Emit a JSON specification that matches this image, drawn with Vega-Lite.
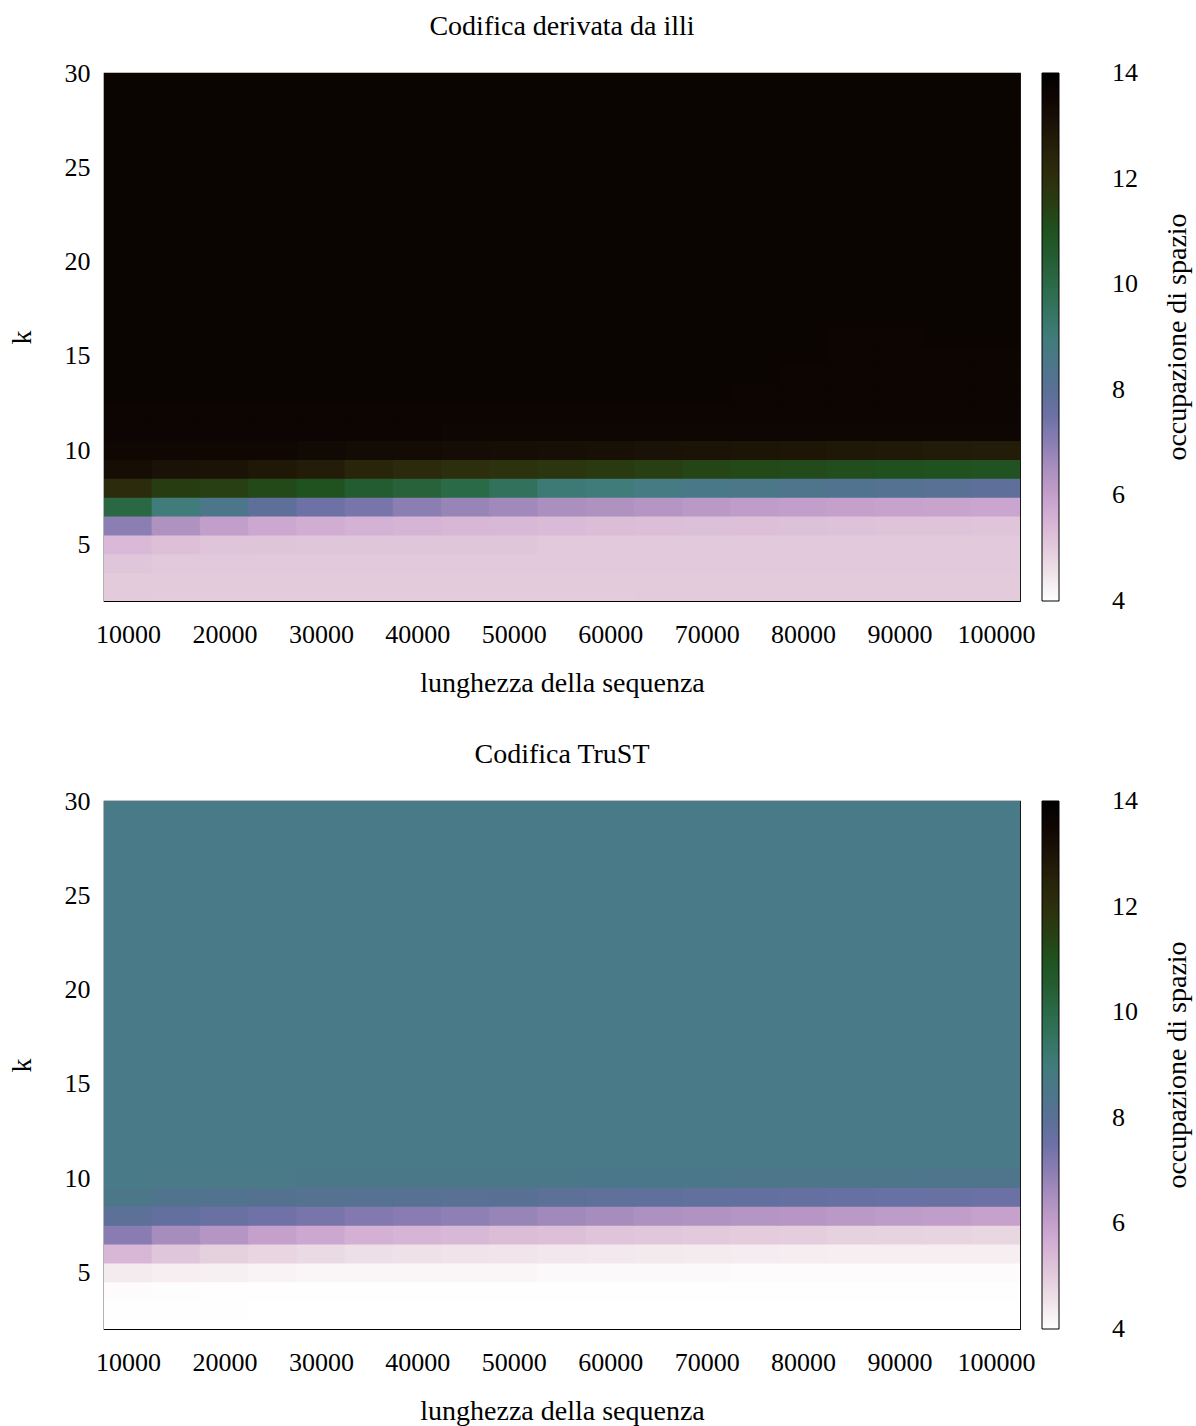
{
"$schema": "https://vega.github.io/schema/vega-lite/v6.json",
"background": "white",
"padding": {"left": 7, "top": 12, "right": 5, "bottom": 5},
"spacing": 42,
"datasets": {
"illi": [
{"n":10000,"k":2,"v":5.0},{"n":15000,"k":2,"v":4.97},{"n":20000,"k":2,"v":4.97},{"n":25000,"k":2,"v":4.97},{"n":30000,"k":2,"v":4.97},{"n":35000,"k":2,"v":4.97},{"n":40000,"k":2,"v":4.97},{"n":45000,"k":2,"v":4.97},{"n":50000,"k":2,"v":4.97},{"n":55000,"k":2,"v":4.97},{"n":60000,"k":2,"v":4.97},{"n":65000,"k":2,"v":5.0},{"n":70000,"k":2,"v":5.0},{"n":75000,"k":2,"v":5.0},{"n":80000,"k":2,"v":5.0},{"n":85000,"k":2,"v":5.0},{"n":90000,"k":2,"v":5.0},{"n":95000,"k":2,"v":5.0},{"n":100000,"k":2,"v":5.0},
{"n":10000,"k":3,"v":5.0},{"n":15000,"k":3,"v":5.0},{"n":20000,"k":3,"v":5.0},{"n":25000,"k":3,"v":5.0},{"n":30000,"k":3,"v":5.0},{"n":35000,"k":3,"v":5.0},{"n":40000,"k":3,"v":5.0},{"n":45000,"k":3,"v":5.0},{"n":50000,"k":3,"v":5.0},{"n":55000,"k":3,"v":5.0},{"n":60000,"k":3,"v":5.0},{"n":65000,"k":3,"v":5.0},{"n":70000,"k":3,"v":5.0},{"n":75000,"k":3,"v":5.0},{"n":80000,"k":3,"v":5.0},{"n":85000,"k":3,"v":5.0},{"n":90000,"k":3,"v":5.0},{"n":95000,"k":3,"v":5.0},{"n":100000,"k":3,"v":5.0},
{"n":10000,"k":4,"v":5.1},{"n":15000,"k":4,"v":5.05},{"n":20000,"k":4,"v":5.05},{"n":25000,"k":4,"v":5.05},{"n":30000,"k":4,"v":5.02},{"n":35000,"k":4,"v":5.02},{"n":40000,"k":4,"v":5.02},{"n":45000,"k":4,"v":5.02},{"n":50000,"k":4,"v":5.02},{"n":55000,"k":4,"v":5.02},{"n":60000,"k":4,"v":5.02},{"n":65000,"k":4,"v":5.02},{"n":70000,"k":4,"v":5.02},{"n":75000,"k":4,"v":5.02},{"n":80000,"k":4,"v":5.02},{"n":85000,"k":4,"v":5.02},{"n":90000,"k":4,"v":5.02},{"n":95000,"k":4,"v":5.02},{"n":100000,"k":4,"v":5.02},
{"n":10000,"k":5,"v":5.38},{"n":15000,"k":5,"v":5.22},{"n":20000,"k":5,"v":5.15},{"n":25000,"k":5,"v":5.13},{"n":30000,"k":5,"v":5.1},{"n":35000,"k":5,"v":5.1},{"n":40000,"k":5,"v":5.1},{"n":45000,"k":5,"v":5.1},{"n":50000,"k":5,"v":5.1},{"n":55000,"k":5,"v":5.05},{"n":60000,"k":5,"v":5.05},{"n":65000,"k":5,"v":5.05},{"n":70000,"k":5,"v":5.05},{"n":75000,"k":5,"v":5.05},{"n":80000,"k":5,"v":5.05},{"n":85000,"k":5,"v":5.03},{"n":90000,"k":5,"v":5.03},{"n":95000,"k":5,"v":5.03},{"n":100000,"k":5,"v":5.03},
{"n":10000,"k":6,"v":7.0},{"n":15000,"k":6,"v":6.4},{"n":20000,"k":6,"v":6.05},{"n":25000,"k":6,"v":5.8},{"n":30000,"k":6,"v":5.65},{"n":35000,"k":6,"v":5.55},{"n":40000,"k":6,"v":5.5},{"n":45000,"k":6,"v":5.45},{"n":50000,"k":6,"v":5.4},{"n":55000,"k":6,"v":5.35},{"n":60000,"k":6,"v":5.3},{"n":65000,"k":6,"v":5.27},{"n":70000,"k":6,"v":5.25},{"n":75000,"k":6,"v":5.23},{"n":80000,"k":6,"v":5.2},{"n":85000,"k":6,"v":5.18},{"n":90000,"k":6,"v":5.17},{"n":95000,"k":6,"v":5.16},{"n":100000,"k":6,"v":5.15},
{"n":10000,"k":7,"v":10.1},{"n":15000,"k":7,"v":9.0},{"n":20000,"k":7,"v":8.45},{"n":25000,"k":7,"v":7.9},{"n":30000,"k":7,"v":7.5},{"n":35000,"k":7,"v":7.3},{"n":40000,"k":7,"v":7.0},{"n":45000,"k":7,"v":6.8},{"n":50000,"k":7,"v":6.65},{"n":55000,"k":7,"v":6.5},{"n":60000,"k":7,"v":6.4},{"n":65000,"k":7,"v":6.3},{"n":70000,"k":7,"v":6.2},{"n":75000,"k":7,"v":6.1},{"n":80000,"k":7,"v":6.05},{"n":85000,"k":7,"v":6.0},{"n":90000,"k":7,"v":5.95},{"n":95000,"k":7,"v":5.9},{"n":100000,"k":7,"v":5.85},
{"n":10000,"k":8,"v":12.1},{"n":15000,"k":8,"v":11.6},{"n":20000,"k":8,"v":11.5},{"n":25000,"k":8,"v":11.25},{"n":30000,"k":8,"v":11.0},{"n":35000,"k":8,"v":10.55},{"n":40000,"k":8,"v":10.3},{"n":45000,"k":8,"v":10.0},{"n":50000,"k":8,"v":9.6},{"n":55000,"k":8,"v":9.1},{"n":60000,"k":8,"v":9.0},{"n":65000,"k":8,"v":8.8},{"n":70000,"k":8,"v":8.65},{"n":75000,"k":8,"v":8.5},{"n":80000,"k":8,"v":8.35},{"n":85000,"k":8,"v":8.25},{"n":90000,"k":8,"v":8.15},{"n":95000,"k":8,"v":8.05},{"n":100000,"k":8,"v":7.9},
{"n":10000,"k":9,"v":13.2},{"n":15000,"k":9,"v":13.05},{"n":20000,"k":9,"v":13.0},{"n":25000,"k":9,"v":12.85},{"n":30000,"k":9,"v":12.7},{"n":35000,"k":9,"v":12.4},{"n":40000,"k":9,"v":12.2},{"n":45000,"k":9,"v":12.05},{"n":50000,"k":9,"v":11.9},{"n":55000,"k":9,"v":11.8},{"n":60000,"k":9,"v":11.7},{"n":65000,"k":9,"v":11.5},{"n":70000,"k":9,"v":11.35},{"n":75000,"k":9,"v":11.25},{"n":80000,"k":9,"v":11.2},{"n":85000,"k":9,"v":11.1},{"n":90000,"k":9,"v":11.05},{"n":95000,"k":9,"v":11.0},{"n":100000,"k":9,"v":10.95},
{"n":10000,"k":10,"v":13.45},{"n":15000,"k":10,"v":13.45},{"n":20000,"k":10,"v":13.45},{"n":25000,"k":10,"v":13.45},{"n":30000,"k":10,"v":13.4},{"n":35000,"k":10,"v":13.3},{"n":40000,"k":10,"v":13.28},{"n":45000,"k":10,"v":13.25},{"n":50000,"k":10,"v":13.22},{"n":55000,"k":10,"v":13.15},{"n":60000,"k":10,"v":13.1},{"n":65000,"k":10,"v":13.05},{"n":70000,"k":10,"v":13.0},{"n":75000,"k":10,"v":12.95},{"n":80000,"k":10,"v":12.9},{"n":85000,"k":10,"v":12.85},{"n":90000,"k":10,"v":12.8},{"n":95000,"k":10,"v":12.75},{"n":100000,"k":10,"v":12.7},
{"n":10000,"k":11,"v":13.56},{"n":15000,"k":11,"v":13.56},{"n":20000,"k":11,"v":13.56},{"n":25000,"k":11,"v":13.56},{"n":30000,"k":11,"v":13.55},{"n":35000,"k":11,"v":13.55},{"n":40000,"k":11,"v":13.55},{"n":45000,"k":11,"v":13.54},{"n":50000,"k":11,"v":13.54},{"n":55000,"k":11,"v":13.54},{"n":60000,"k":11,"v":13.53},{"n":65000,"k":11,"v":13.53},{"n":70000,"k":11,"v":13.53},{"n":75000,"k":11,"v":13.52},{"n":80000,"k":11,"v":13.52},{"n":85000,"k":11,"v":13.52},{"n":90000,"k":11,"v":13.52},{"n":95000,"k":11,"v":13.52},{"n":100000,"k":11,"v":13.52},
{"n":10000,"k":12,"v":13.6},{"n":15000,"k":12,"v":13.6},{"n":20000,"k":12,"v":13.6},{"n":25000,"k":12,"v":13.6},{"n":30000,"k":12,"v":13.6},{"n":35000,"k":12,"v":13.6},{"n":40000,"k":12,"v":13.6},{"n":45000,"k":12,"v":13.6},{"n":50000,"k":12,"v":13.6},{"n":55000,"k":12,"v":13.6},{"n":60000,"k":12,"v":13.59},{"n":65000,"k":12,"v":13.59},{"n":70000,"k":12,"v":13.59},{"n":75000,"k":12,"v":13.59},{"n":80000,"k":12,"v":13.59},{"n":85000,"k":12,"v":13.58},{"n":90000,"k":12,"v":13.58},{"n":95000,"k":12,"v":13.58},{"n":100000,"k":12,"v":13.58},
{"n":10000,"k":13,"v":13.62},{"n":15000,"k":13,"v":13.62},{"n":20000,"k":13,"v":13.62},{"n":25000,"k":13,"v":13.62},{"n":30000,"k":13,"v":13.62},{"n":35000,"k":13,"v":13.62},{"n":40000,"k":13,"v":13.62},{"n":45000,"k":13,"v":13.62},{"n":50000,"k":13,"v":13.62},{"n":55000,"k":13,"v":13.62},{"n":60000,"k":13,"v":13.62},{"n":65000,"k":13,"v":13.62},{"n":70000,"k":13,"v":13.62},{"n":75000,"k":13,"v":13.6},{"n":80000,"k":13,"v":13.6},{"n":85000,"k":13,"v":13.6},{"n":90000,"k":13,"v":13.6},{"n":95000,"k":13,"v":13.6},{"n":100000,"k":13,"v":13.6},
{"n":10000,"k":14,"v":13.62},{"n":15000,"k":14,"v":13.62},{"n":20000,"k":14,"v":13.62},{"n":25000,"k":14,"v":13.62},{"n":30000,"k":14,"v":13.62},{"n":35000,"k":14,"v":13.62},{"n":40000,"k":14,"v":13.62},{"n":45000,"k":14,"v":13.62},{"n":50000,"k":14,"v":13.62},{"n":55000,"k":14,"v":13.62},{"n":60000,"k":14,"v":13.62},{"n":65000,"k":14,"v":13.62},{"n":70000,"k":14,"v":13.62},{"n":75000,"k":14,"v":13.62},{"n":80000,"k":14,"v":13.6},{"n":85000,"k":14,"v":13.61},{"n":90000,"k":14,"v":13.61},{"n":95000,"k":14,"v":13.61},{"n":100000,"k":14,"v":13.61},
{"n":10000,"k":15,"v":13.62},{"n":15000,"k":15,"v":13.62},{"n":20000,"k":15,"v":13.62},{"n":25000,"k":15,"v":13.62},{"n":30000,"k":15,"v":13.62},{"n":35000,"k":15,"v":13.62},{"n":40000,"k":15,"v":13.62},{"n":45000,"k":15,"v":13.62},{"n":50000,"k":15,"v":13.62},{"n":55000,"k":15,"v":13.62},{"n":60000,"k":15,"v":13.62},{"n":65000,"k":15,"v":13.62},{"n":70000,"k":15,"v":13.62},{"n":75000,"k":15,"v":13.62},{"n":80000,"k":15,"v":13.62},{"n":85000,"k":15,"v":13.6},{"n":90000,"k":15,"v":13.6},{"n":95000,"k":15,"v":13.61},{"n":100000,"k":15,"v":13.61},
{"n":10000,"k":16,"v":13.62},{"n":15000,"k":16,"v":13.62},{"n":20000,"k":16,"v":13.62},{"n":25000,"k":16,"v":13.62},{"n":30000,"k":16,"v":13.62},{"n":35000,"k":16,"v":13.62},{"n":40000,"k":16,"v":13.62},{"n":45000,"k":16,"v":13.62},{"n":50000,"k":16,"v":13.62},{"n":55000,"k":16,"v":13.62},{"n":60000,"k":16,"v":13.62},{"n":65000,"k":16,"v":13.62},{"n":70000,"k":16,"v":13.62},{"n":75000,"k":16,"v":13.62},{"n":80000,"k":16,"v":13.62},{"n":85000,"k":16,"v":13.61},{"n":90000,"k":16,"v":13.61},{"n":95000,"k":16,"v":13.62},{"n":100000,"k":16,"v":13.62},
{"n":10000,"k":17,"v":13.62},{"n":15000,"k":17,"v":13.62},{"n":20000,"k":17,"v":13.62},{"n":25000,"k":17,"v":13.62},{"n":30000,"k":17,"v":13.62},{"n":35000,"k":17,"v":13.62},{"n":40000,"k":17,"v":13.62},{"n":45000,"k":17,"v":13.62},{"n":50000,"k":17,"v":13.62},{"n":55000,"k":17,"v":13.62},{"n":60000,"k":17,"v":13.62},{"n":65000,"k":17,"v":13.62},{"n":70000,"k":17,"v":13.62},{"n":75000,"k":17,"v":13.62},{"n":80000,"k":17,"v":13.62},{"n":85000,"k":17,"v":13.62},{"n":90000,"k":17,"v":13.62},{"n":95000,"k":17,"v":13.62},{"n":100000,"k":17,"v":13.62},
{"n":10000,"k":18,"v":13.62},{"n":15000,"k":18,"v":13.62},{"n":20000,"k":18,"v":13.62},{"n":25000,"k":18,"v":13.62},{"n":30000,"k":18,"v":13.62},{"n":35000,"k":18,"v":13.62},{"n":40000,"k":18,"v":13.62},{"n":45000,"k":18,"v":13.62},{"n":50000,"k":18,"v":13.62},{"n":55000,"k":18,"v":13.62},{"n":60000,"k":18,"v":13.62},{"n":65000,"k":18,"v":13.62},{"n":70000,"k":18,"v":13.62},{"n":75000,"k":18,"v":13.62},{"n":80000,"k":18,"v":13.62},{"n":85000,"k":18,"v":13.62},{"n":90000,"k":18,"v":13.62},{"n":95000,"k":18,"v":13.62},{"n":100000,"k":18,"v":13.62},
{"n":10000,"k":19,"v":13.62},{"n":15000,"k":19,"v":13.62},{"n":20000,"k":19,"v":13.62},{"n":25000,"k":19,"v":13.62},{"n":30000,"k":19,"v":13.62},{"n":35000,"k":19,"v":13.62},{"n":40000,"k":19,"v":13.62},{"n":45000,"k":19,"v":13.62},{"n":50000,"k":19,"v":13.62},{"n":55000,"k":19,"v":13.62},{"n":60000,"k":19,"v":13.62},{"n":65000,"k":19,"v":13.62},{"n":70000,"k":19,"v":13.62},{"n":75000,"k":19,"v":13.62},{"n":80000,"k":19,"v":13.62},{"n":85000,"k":19,"v":13.62},{"n":90000,"k":19,"v":13.62},{"n":95000,"k":19,"v":13.62},{"n":100000,"k":19,"v":13.62},
{"n":10000,"k":20,"v":13.62},{"n":15000,"k":20,"v":13.62},{"n":20000,"k":20,"v":13.62},{"n":25000,"k":20,"v":13.62},{"n":30000,"k":20,"v":13.62},{"n":35000,"k":20,"v":13.62},{"n":40000,"k":20,"v":13.62},{"n":45000,"k":20,"v":13.62},{"n":50000,"k":20,"v":13.62},{"n":55000,"k":20,"v":13.62},{"n":60000,"k":20,"v":13.62},{"n":65000,"k":20,"v":13.62},{"n":70000,"k":20,"v":13.62},{"n":75000,"k":20,"v":13.62},{"n":80000,"k":20,"v":13.62},{"n":85000,"k":20,"v":13.62},{"n":90000,"k":20,"v":13.62},{"n":95000,"k":20,"v":13.62},{"n":100000,"k":20,"v":13.62},
{"n":10000,"k":21,"v":13.62},{"n":15000,"k":21,"v":13.62},{"n":20000,"k":21,"v":13.62},{"n":25000,"k":21,"v":13.62},{"n":30000,"k":21,"v":13.62},{"n":35000,"k":21,"v":13.62},{"n":40000,"k":21,"v":13.62},{"n":45000,"k":21,"v":13.62},{"n":50000,"k":21,"v":13.62},{"n":55000,"k":21,"v":13.62},{"n":60000,"k":21,"v":13.62},{"n":65000,"k":21,"v":13.62},{"n":70000,"k":21,"v":13.62},{"n":75000,"k":21,"v":13.62},{"n":80000,"k":21,"v":13.62},{"n":85000,"k":21,"v":13.62},{"n":90000,"k":21,"v":13.62},{"n":95000,"k":21,"v":13.62},{"n":100000,"k":21,"v":13.62},
{"n":10000,"k":22,"v":13.62},{"n":15000,"k":22,"v":13.62},{"n":20000,"k":22,"v":13.62},{"n":25000,"k":22,"v":13.62},{"n":30000,"k":22,"v":13.62},{"n":35000,"k":22,"v":13.62},{"n":40000,"k":22,"v":13.62},{"n":45000,"k":22,"v":13.62},{"n":50000,"k":22,"v":13.62},{"n":55000,"k":22,"v":13.62},{"n":60000,"k":22,"v":13.62},{"n":65000,"k":22,"v":13.62},{"n":70000,"k":22,"v":13.62},{"n":75000,"k":22,"v":13.62},{"n":80000,"k":22,"v":13.62},{"n":85000,"k":22,"v":13.62},{"n":90000,"k":22,"v":13.62},{"n":95000,"k":22,"v":13.62},{"n":100000,"k":22,"v":13.62},
{"n":10000,"k":23,"v":13.62},{"n":15000,"k":23,"v":13.62},{"n":20000,"k":23,"v":13.62},{"n":25000,"k":23,"v":13.62},{"n":30000,"k":23,"v":13.62},{"n":35000,"k":23,"v":13.62},{"n":40000,"k":23,"v":13.62},{"n":45000,"k":23,"v":13.62},{"n":50000,"k":23,"v":13.62},{"n":55000,"k":23,"v":13.62},{"n":60000,"k":23,"v":13.62},{"n":65000,"k":23,"v":13.62},{"n":70000,"k":23,"v":13.62},{"n":75000,"k":23,"v":13.62},{"n":80000,"k":23,"v":13.62},{"n":85000,"k":23,"v":13.62},{"n":90000,"k":23,"v":13.62},{"n":95000,"k":23,"v":13.62},{"n":100000,"k":23,"v":13.62},
{"n":10000,"k":24,"v":13.62},{"n":15000,"k":24,"v":13.62},{"n":20000,"k":24,"v":13.62},{"n":25000,"k":24,"v":13.62},{"n":30000,"k":24,"v":13.62},{"n":35000,"k":24,"v":13.62},{"n":40000,"k":24,"v":13.62},{"n":45000,"k":24,"v":13.62},{"n":50000,"k":24,"v":13.62},{"n":55000,"k":24,"v":13.62},{"n":60000,"k":24,"v":13.62},{"n":65000,"k":24,"v":13.62},{"n":70000,"k":24,"v":13.62},{"n":75000,"k":24,"v":13.62},{"n":80000,"k":24,"v":13.62},{"n":85000,"k":24,"v":13.62},{"n":90000,"k":24,"v":13.62},{"n":95000,"k":24,"v":13.62},{"n":100000,"k":24,"v":13.62},
{"n":10000,"k":25,"v":13.62},{"n":15000,"k":25,"v":13.62},{"n":20000,"k":25,"v":13.62},{"n":25000,"k":25,"v":13.62},{"n":30000,"k":25,"v":13.62},{"n":35000,"k":25,"v":13.62},{"n":40000,"k":25,"v":13.62},{"n":45000,"k":25,"v":13.62},{"n":50000,"k":25,"v":13.62},{"n":55000,"k":25,"v":13.62},{"n":60000,"k":25,"v":13.62},{"n":65000,"k":25,"v":13.62},{"n":70000,"k":25,"v":13.62},{"n":75000,"k":25,"v":13.62},{"n":80000,"k":25,"v":13.62},{"n":85000,"k":25,"v":13.62},{"n":90000,"k":25,"v":13.62},{"n":95000,"k":25,"v":13.62},{"n":100000,"k":25,"v":13.62},
{"n":10000,"k":26,"v":13.62},{"n":15000,"k":26,"v":13.62},{"n":20000,"k":26,"v":13.62},{"n":25000,"k":26,"v":13.62},{"n":30000,"k":26,"v":13.62},{"n":35000,"k":26,"v":13.62},{"n":40000,"k":26,"v":13.62},{"n":45000,"k":26,"v":13.62},{"n":50000,"k":26,"v":13.62},{"n":55000,"k":26,"v":13.62},{"n":60000,"k":26,"v":13.62},{"n":65000,"k":26,"v":13.62},{"n":70000,"k":26,"v":13.62},{"n":75000,"k":26,"v":13.62},{"n":80000,"k":26,"v":13.62},{"n":85000,"k":26,"v":13.62},{"n":90000,"k":26,"v":13.62},{"n":95000,"k":26,"v":13.62},{"n":100000,"k":26,"v":13.62},
{"n":10000,"k":27,"v":13.62},{"n":15000,"k":27,"v":13.62},{"n":20000,"k":27,"v":13.62},{"n":25000,"k":27,"v":13.62},{"n":30000,"k":27,"v":13.62},{"n":35000,"k":27,"v":13.62},{"n":40000,"k":27,"v":13.62},{"n":45000,"k":27,"v":13.62},{"n":50000,"k":27,"v":13.62},{"n":55000,"k":27,"v":13.62},{"n":60000,"k":27,"v":13.62},{"n":65000,"k":27,"v":13.62},{"n":70000,"k":27,"v":13.62},{"n":75000,"k":27,"v":13.62},{"n":80000,"k":27,"v":13.62},{"n":85000,"k":27,"v":13.62},{"n":90000,"k":27,"v":13.62},{"n":95000,"k":27,"v":13.62},{"n":100000,"k":27,"v":13.62},
{"n":10000,"k":28,"v":13.62},{"n":15000,"k":28,"v":13.62},{"n":20000,"k":28,"v":13.62},{"n":25000,"k":28,"v":13.62},{"n":30000,"k":28,"v":13.62},{"n":35000,"k":28,"v":13.62},{"n":40000,"k":28,"v":13.62},{"n":45000,"k":28,"v":13.62},{"n":50000,"k":28,"v":13.62},{"n":55000,"k":28,"v":13.62},{"n":60000,"k":28,"v":13.62},{"n":65000,"k":28,"v":13.62},{"n":70000,"k":28,"v":13.62},{"n":75000,"k":28,"v":13.62},{"n":80000,"k":28,"v":13.62},{"n":85000,"k":28,"v":13.62},{"n":90000,"k":28,"v":13.62},{"n":95000,"k":28,"v":13.62},{"n":100000,"k":28,"v":13.62},
{"n":10000,"k":29,"v":13.62},{"n":15000,"k":29,"v":13.62},{"n":20000,"k":29,"v":13.62},{"n":25000,"k":29,"v":13.62},{"n":30000,"k":29,"v":13.62},{"n":35000,"k":29,"v":13.62},{"n":40000,"k":29,"v":13.62},{"n":45000,"k":29,"v":13.62},{"n":50000,"k":29,"v":13.62},{"n":55000,"k":29,"v":13.62},{"n":60000,"k":29,"v":13.62},{"n":65000,"k":29,"v":13.62},{"n":70000,"k":29,"v":13.62},{"n":75000,"k":29,"v":13.62},{"n":80000,"k":29,"v":13.62},{"n":85000,"k":29,"v":13.62},{"n":90000,"k":29,"v":13.62},{"n":95000,"k":29,"v":13.62},{"n":100000,"k":29,"v":13.62},
{"n":10000,"k":30,"v":13.62},{"n":15000,"k":30,"v":13.62},{"n":20000,"k":30,"v":13.62},{"n":25000,"k":30,"v":13.62},{"n":30000,"k":30,"v":13.62},{"n":35000,"k":30,"v":13.62},{"n":40000,"k":30,"v":13.62},{"n":45000,"k":30,"v":13.62},{"n":50000,"k":30,"v":13.62},{"n":55000,"k":30,"v":13.62},{"n":60000,"k":30,"v":13.62},{"n":65000,"k":30,"v":13.62},{"n":70000,"k":30,"v":13.62},{"n":75000,"k":30,"v":13.62},{"n":80000,"k":30,"v":13.62},{"n":85000,"k":30,"v":13.62},{"n":90000,"k":30,"v":13.62},{"n":95000,"k":30,"v":13.62},{"n":100000,"k":30,"v":13.62}
],
"trust": [
{"n":10000,"k":2,"v":4.0},{"n":15000,"k":2,"v":4.0},{"n":20000,"k":2,"v":4.0},{"n":25000,"k":2,"v":4.0},{"n":30000,"k":2,"v":4.0},{"n":35000,"k":2,"v":4.0},{"n":40000,"k":2,"v":4.0},{"n":45000,"k":2,"v":4.0},{"n":50000,"k":2,"v":4.0},{"n":55000,"k":2,"v":4.0},{"n":60000,"k":2,"v":4.0},{"n":65000,"k":2,"v":4.0},{"n":70000,"k":2,"v":4.0},{"n":75000,"k":2,"v":4.0},{"n":80000,"k":2,"v":4.0},{"n":85000,"k":2,"v":4.0},{"n":90000,"k":2,"v":4.0},{"n":95000,"k":2,"v":4.0},{"n":100000,"k":2,"v":4.0},
{"n":10000,"k":3,"v":4.02},{"n":15000,"k":3,"v":4.02},{"n":20000,"k":3,"v":4.02},{"n":25000,"k":3,"v":4.0},{"n":30000,"k":3,"v":4.0},{"n":35000,"k":3,"v":4.0},{"n":40000,"k":3,"v":4.0},{"n":45000,"k":3,"v":4.0},{"n":50000,"k":3,"v":4.0},{"n":55000,"k":3,"v":4.0},{"n":60000,"k":3,"v":4.0},{"n":65000,"k":3,"v":4.0},{"n":70000,"k":3,"v":4.0},{"n":75000,"k":3,"v":4.0},{"n":80000,"k":3,"v":4.0},{"n":85000,"k":3,"v":4.0},{"n":90000,"k":3,"v":4.0},{"n":95000,"k":3,"v":4.0},{"n":100000,"k":3,"v":4.0},
{"n":10000,"k":4,"v":4.06},{"n":15000,"k":4,"v":4.04},{"n":20000,"k":4,"v":4.02},{"n":25000,"k":4,"v":4.02},{"n":30000,"k":4,"v":4.02},{"n":35000,"k":4,"v":4.02},{"n":40000,"k":4,"v":4.02},{"n":45000,"k":4,"v":4.02},{"n":50000,"k":4,"v":4.01},{"n":55000,"k":4,"v":4.01},{"n":60000,"k":4,"v":4.01},{"n":65000,"k":4,"v":4.01},{"n":70000,"k":4,"v":4.01},{"n":75000,"k":4,"v":4.01},{"n":80000,"k":4,"v":4.01},{"n":85000,"k":4,"v":4.01},{"n":90000,"k":4,"v":4.01},{"n":95000,"k":4,"v":4.01},{"n":100000,"k":4,"v":4.01},
{"n":10000,"k":5,"v":4.35},{"n":15000,"k":5,"v":4.3},{"n":20000,"k":5,"v":4.25},{"n":25000,"k":5,"v":4.2},{"n":30000,"k":5,"v":4.15},{"n":35000,"k":5,"v":4.15},{"n":40000,"k":5,"v":4.15},{"n":45000,"k":5,"v":4.15},{"n":50000,"k":5,"v":4.15},{"n":55000,"k":5,"v":4.1},{"n":60000,"k":5,"v":4.1},{"n":65000,"k":5,"v":4.1},{"n":70000,"k":5,"v":4.1},{"n":75000,"k":5,"v":4.07},{"n":80000,"k":5,"v":4.07},{"n":85000,"k":5,"v":4.07},{"n":90000,"k":5,"v":4.07},{"n":95000,"k":5,"v":4.07},{"n":100000,"k":5,"v":4.07},
{"n":10000,"k":6,"v":5.45},{"n":15000,"k":6,"v":5.1},{"n":20000,"k":6,"v":4.9},{"n":25000,"k":6,"v":4.8},{"n":30000,"k":6,"v":4.7},{"n":35000,"k":6,"v":4.6},{"n":40000,"k":6,"v":4.55},{"n":45000,"k":6,"v":4.5},{"n":50000,"k":6,"v":4.47},{"n":55000,"k":6,"v":4.44},{"n":60000,"k":6,"v":4.42},{"n":65000,"k":6,"v":4.38},{"n":70000,"k":6,"v":4.36},{"n":75000,"k":6,"v":4.34},{"n":80000,"k":6,"v":4.32},{"n":85000,"k":6,"v":4.3},{"n":90000,"k":6,"v":4.3},{"n":95000,"k":6,"v":4.3},{"n":100000,"k":6,"v":4.3},
{"n":10000,"k":7,"v":7.05},{"n":15000,"k":7,"v":6.55},{"n":20000,"k":7,"v":6.3},{"n":25000,"k":7,"v":6.0},{"n":30000,"k":7,"v":5.8},{"n":35000,"k":7,"v":5.6},{"n":40000,"k":7,"v":5.5},{"n":45000,"k":7,"v":5.42},{"n":50000,"k":7,"v":5.3},{"n":55000,"k":7,"v":5.22},{"n":60000,"k":7,"v":5.12},{"n":65000,"k":7,"v":5.08},{"n":70000,"k":7,"v":5.02},{"n":75000,"k":7,"v":4.97},{"n":80000,"k":7,"v":4.95},{"n":85000,"k":7,"v":4.88},{"n":90000,"k":7,"v":4.84},{"n":95000,"k":7,"v":4.82},{"n":100000,"k":7,"v":4.78},
{"n":10000,"k":8,"v":7.95},{"n":15000,"k":8,"v":7.75},{"n":20000,"k":8,"v":7.6},{"n":25000,"k":8,"v":7.45},{"n":30000,"k":8,"v":7.3},{"n":35000,"k":8,"v":7.15},{"n":40000,"k":8,"v":7.05},{"n":45000,"k":8,"v":6.95},{"n":50000,"k":8,"v":6.8},{"n":55000,"k":8,"v":6.65},{"n":60000,"k":8,"v":6.55},{"n":65000,"k":8,"v":6.45},{"n":70000,"k":8,"v":6.38},{"n":75000,"k":8,"v":6.3},{"n":80000,"k":8,"v":6.27},{"n":85000,"k":8,"v":6.2},{"n":90000,"k":8,"v":6.12},{"n":95000,"k":8,"v":6.06},{"n":100000,"k":8,"v":5.98},
{"n":10000,"k":9,"v":8.5},{"n":15000,"k":9,"v":8.3},{"n":20000,"k":9,"v":8.25},{"n":25000,"k":9,"v":8.2},{"n":30000,"k":9,"v":8.17},{"n":35000,"k":9,"v":8.13},{"n":40000,"k":9,"v":8.1},{"n":45000,"k":9,"v":8.07},{"n":50000,"k":9,"v":8.03},{"n":55000,"k":9,"v":7.95},{"n":60000,"k":9,"v":7.85},{"n":65000,"k":9,"v":7.82},{"n":70000,"k":9,"v":7.78},{"n":75000,"k":9,"v":7.74},{"n":80000,"k":9,"v":7.7},{"n":85000,"k":9,"v":7.66},{"n":90000,"k":9,"v":7.62},{"n":95000,"k":9,"v":7.6},{"n":100000,"k":9,"v":7.55},
{"n":10000,"k":10,"v":8.7},{"n":15000,"k":10,"v":8.62},{"n":20000,"k":10,"v":8.62},{"n":25000,"k":10,"v":8.62},{"n":30000,"k":10,"v":8.55},{"n":35000,"k":10,"v":8.53},{"n":40000,"k":10,"v":8.52},{"n":45000,"k":10,"v":8.5},{"n":50000,"k":10,"v":8.5},{"n":55000,"k":10,"v":8.48},{"n":60000,"k":10,"v":8.47},{"n":65000,"k":10,"v":8.46},{"n":70000,"k":10,"v":8.45},{"n":75000,"k":10,"v":8.44},{"n":80000,"k":10,"v":8.43},{"n":85000,"k":10,"v":8.42},{"n":90000,"k":10,"v":8.41},{"n":95000,"k":10,"v":8.4},{"n":100000,"k":10,"v":8.38},
{"n":10000,"k":11,"v":8.73},{"n":15000,"k":11,"v":8.73},{"n":20000,"k":11,"v":8.72},{"n":25000,"k":11,"v":8.72},{"n":30000,"k":11,"v":8.73},{"n":35000,"k":11,"v":8.73},{"n":40000,"k":11,"v":8.72},{"n":45000,"k":11,"v":8.72},{"n":50000,"k":11,"v":8.72},{"n":55000,"k":11,"v":8.72},{"n":60000,"k":11,"v":8.72},{"n":65000,"k":11,"v":8.72},{"n":70000,"k":11,"v":8.72},{"n":75000,"k":11,"v":8.71},{"n":80000,"k":11,"v":8.71},{"n":85000,"k":11,"v":8.71},{"n":90000,"k":11,"v":8.71},{"n":95000,"k":11,"v":8.71},{"n":100000,"k":11,"v":8.71},
{"n":10000,"k":12,"v":8.75},{"n":15000,"k":12,"v":8.75},{"n":20000,"k":12,"v":8.75},{"n":25000,"k":12,"v":8.75},{"n":30000,"k":12,"v":8.75},{"n":35000,"k":12,"v":8.75},{"n":40000,"k":12,"v":8.75},{"n":45000,"k":12,"v":8.75},{"n":50000,"k":12,"v":8.75},{"n":55000,"k":12,"v":8.75},{"n":60000,"k":12,"v":8.75},{"n":65000,"k":12,"v":8.75},{"n":70000,"k":12,"v":8.74},{"n":75000,"k":12,"v":8.74},{"n":80000,"k":12,"v":8.74},{"n":85000,"k":12,"v":8.74},{"n":90000,"k":12,"v":8.74},{"n":95000,"k":12,"v":8.74},{"n":100000,"k":12,"v":8.74},
{"n":10000,"k":13,"v":8.75},{"n":15000,"k":13,"v":8.75},{"n":20000,"k":13,"v":8.75},{"n":25000,"k":13,"v":8.75},{"n":30000,"k":13,"v":8.75},{"n":35000,"k":13,"v":8.75},{"n":40000,"k":13,"v":8.75},{"n":45000,"k":13,"v":8.75},{"n":50000,"k":13,"v":8.75},{"n":55000,"k":13,"v":8.75},{"n":60000,"k":13,"v":8.75},{"n":65000,"k":13,"v":8.75},{"n":70000,"k":13,"v":8.75},{"n":75000,"k":13,"v":8.73},{"n":80000,"k":13,"v":8.73},{"n":85000,"k":13,"v":8.73},{"n":90000,"k":13,"v":8.73},{"n":95000,"k":13,"v":8.73},{"n":100000,"k":13,"v":8.73},
{"n":10000,"k":14,"v":8.75},{"n":15000,"k":14,"v":8.75},{"n":20000,"k":14,"v":8.75},{"n":25000,"k":14,"v":8.75},{"n":30000,"k":14,"v":8.75},{"n":35000,"k":14,"v":8.75},{"n":40000,"k":14,"v":8.75},{"n":45000,"k":14,"v":8.75},{"n":50000,"k":14,"v":8.75},{"n":55000,"k":14,"v":8.75},{"n":60000,"k":14,"v":8.75},{"n":65000,"k":14,"v":8.75},{"n":70000,"k":14,"v":8.75},{"n":75000,"k":14,"v":8.75},{"n":80000,"k":14,"v":8.73},{"n":85000,"k":14,"v":8.74},{"n":90000,"k":14,"v":8.74},{"n":95000,"k":14,"v":8.74},{"n":100000,"k":14,"v":8.74},
{"n":10000,"k":15,"v":8.75},{"n":15000,"k":15,"v":8.75},{"n":20000,"k":15,"v":8.75},{"n":25000,"k":15,"v":8.75},{"n":30000,"k":15,"v":8.75},{"n":35000,"k":15,"v":8.75},{"n":40000,"k":15,"v":8.75},{"n":45000,"k":15,"v":8.75},{"n":50000,"k":15,"v":8.75},{"n":55000,"k":15,"v":8.75},{"n":60000,"k":15,"v":8.75},{"n":65000,"k":15,"v":8.75},{"n":70000,"k":15,"v":8.75},{"n":75000,"k":15,"v":8.75},{"n":80000,"k":15,"v":8.75},{"n":85000,"k":15,"v":8.73},{"n":90000,"k":15,"v":8.73},{"n":95000,"k":15,"v":8.74},{"n":100000,"k":15,"v":8.74},
{"n":10000,"k":16,"v":8.75},{"n":15000,"k":16,"v":8.75},{"n":20000,"k":16,"v":8.75},{"n":25000,"k":16,"v":8.75},{"n":30000,"k":16,"v":8.75},{"n":35000,"k":16,"v":8.75},{"n":40000,"k":16,"v":8.75},{"n":45000,"k":16,"v":8.75},{"n":50000,"k":16,"v":8.75},{"n":55000,"k":16,"v":8.75},{"n":60000,"k":16,"v":8.75},{"n":65000,"k":16,"v":8.75},{"n":70000,"k":16,"v":8.75},{"n":75000,"k":16,"v":8.75},{"n":80000,"k":16,"v":8.75},{"n":85000,"k":16,"v":8.74},{"n":90000,"k":16,"v":8.74},{"n":95000,"k":16,"v":8.75},{"n":100000,"k":16,"v":8.75},
{"n":10000,"k":17,"v":8.75},{"n":15000,"k":17,"v":8.75},{"n":20000,"k":17,"v":8.75},{"n":25000,"k":17,"v":8.75},{"n":30000,"k":17,"v":8.75},{"n":35000,"k":17,"v":8.75},{"n":40000,"k":17,"v":8.75},{"n":45000,"k":17,"v":8.75},{"n":50000,"k":17,"v":8.75},{"n":55000,"k":17,"v":8.75},{"n":60000,"k":17,"v":8.75},{"n":65000,"k":17,"v":8.75},{"n":70000,"k":17,"v":8.75},{"n":75000,"k":17,"v":8.75},{"n":80000,"k":17,"v":8.75},{"n":85000,"k":17,"v":8.75},{"n":90000,"k":17,"v":8.75},{"n":95000,"k":17,"v":8.75},{"n":100000,"k":17,"v":8.75},
{"n":10000,"k":18,"v":8.75},{"n":15000,"k":18,"v":8.75},{"n":20000,"k":18,"v":8.75},{"n":25000,"k":18,"v":8.75},{"n":30000,"k":18,"v":8.75},{"n":35000,"k":18,"v":8.75},{"n":40000,"k":18,"v":8.75},{"n":45000,"k":18,"v":8.75},{"n":50000,"k":18,"v":8.75},{"n":55000,"k":18,"v":8.75},{"n":60000,"k":18,"v":8.75},{"n":65000,"k":18,"v":8.75},{"n":70000,"k":18,"v":8.75},{"n":75000,"k":18,"v":8.75},{"n":80000,"k":18,"v":8.75},{"n":85000,"k":18,"v":8.75},{"n":90000,"k":18,"v":8.75},{"n":95000,"k":18,"v":8.75},{"n":100000,"k":18,"v":8.75},
{"n":10000,"k":19,"v":8.75},{"n":15000,"k":19,"v":8.75},{"n":20000,"k":19,"v":8.75},{"n":25000,"k":19,"v":8.75},{"n":30000,"k":19,"v":8.75},{"n":35000,"k":19,"v":8.75},{"n":40000,"k":19,"v":8.75},{"n":45000,"k":19,"v":8.75},{"n":50000,"k":19,"v":8.75},{"n":55000,"k":19,"v":8.75},{"n":60000,"k":19,"v":8.75},{"n":65000,"k":19,"v":8.75},{"n":70000,"k":19,"v":8.75},{"n":75000,"k":19,"v":8.75},{"n":80000,"k":19,"v":8.75},{"n":85000,"k":19,"v":8.75},{"n":90000,"k":19,"v":8.75},{"n":95000,"k":19,"v":8.75},{"n":100000,"k":19,"v":8.75},
{"n":10000,"k":20,"v":8.75},{"n":15000,"k":20,"v":8.75},{"n":20000,"k":20,"v":8.75},{"n":25000,"k":20,"v":8.75},{"n":30000,"k":20,"v":8.75},{"n":35000,"k":20,"v":8.75},{"n":40000,"k":20,"v":8.75},{"n":45000,"k":20,"v":8.75},{"n":50000,"k":20,"v":8.75},{"n":55000,"k":20,"v":8.75},{"n":60000,"k":20,"v":8.75},{"n":65000,"k":20,"v":8.75},{"n":70000,"k":20,"v":8.75},{"n":75000,"k":20,"v":8.75},{"n":80000,"k":20,"v":8.75},{"n":85000,"k":20,"v":8.75},{"n":90000,"k":20,"v":8.75},{"n":95000,"k":20,"v":8.75},{"n":100000,"k":20,"v":8.75},
{"n":10000,"k":21,"v":8.75},{"n":15000,"k":21,"v":8.75},{"n":20000,"k":21,"v":8.75},{"n":25000,"k":21,"v":8.75},{"n":30000,"k":21,"v":8.75},{"n":35000,"k":21,"v":8.75},{"n":40000,"k":21,"v":8.75},{"n":45000,"k":21,"v":8.75},{"n":50000,"k":21,"v":8.75},{"n":55000,"k":21,"v":8.75},{"n":60000,"k":21,"v":8.75},{"n":65000,"k":21,"v":8.75},{"n":70000,"k":21,"v":8.75},{"n":75000,"k":21,"v":8.75},{"n":80000,"k":21,"v":8.75},{"n":85000,"k":21,"v":8.75},{"n":90000,"k":21,"v":8.75},{"n":95000,"k":21,"v":8.75},{"n":100000,"k":21,"v":8.75},
{"n":10000,"k":22,"v":8.75},{"n":15000,"k":22,"v":8.75},{"n":20000,"k":22,"v":8.75},{"n":25000,"k":22,"v":8.75},{"n":30000,"k":22,"v":8.75},{"n":35000,"k":22,"v":8.75},{"n":40000,"k":22,"v":8.75},{"n":45000,"k":22,"v":8.75},{"n":50000,"k":22,"v":8.75},{"n":55000,"k":22,"v":8.75},{"n":60000,"k":22,"v":8.75},{"n":65000,"k":22,"v":8.75},{"n":70000,"k":22,"v":8.75},{"n":75000,"k":22,"v":8.75},{"n":80000,"k":22,"v":8.75},{"n":85000,"k":22,"v":8.75},{"n":90000,"k":22,"v":8.75},{"n":95000,"k":22,"v":8.75},{"n":100000,"k":22,"v":8.75},
{"n":10000,"k":23,"v":8.75},{"n":15000,"k":23,"v":8.75},{"n":20000,"k":23,"v":8.75},{"n":25000,"k":23,"v":8.75},{"n":30000,"k":23,"v":8.75},{"n":35000,"k":23,"v":8.75},{"n":40000,"k":23,"v":8.75},{"n":45000,"k":23,"v":8.75},{"n":50000,"k":23,"v":8.75},{"n":55000,"k":23,"v":8.75},{"n":60000,"k":23,"v":8.75},{"n":65000,"k":23,"v":8.75},{"n":70000,"k":23,"v":8.75},{"n":75000,"k":23,"v":8.75},{"n":80000,"k":23,"v":8.75},{"n":85000,"k":23,"v":8.75},{"n":90000,"k":23,"v":8.75},{"n":95000,"k":23,"v":8.75},{"n":100000,"k":23,"v":8.75},
{"n":10000,"k":24,"v":8.75},{"n":15000,"k":24,"v":8.75},{"n":20000,"k":24,"v":8.75},{"n":25000,"k":24,"v":8.75},{"n":30000,"k":24,"v":8.75},{"n":35000,"k":24,"v":8.75},{"n":40000,"k":24,"v":8.75},{"n":45000,"k":24,"v":8.75},{"n":50000,"k":24,"v":8.75},{"n":55000,"k":24,"v":8.75},{"n":60000,"k":24,"v":8.75},{"n":65000,"k":24,"v":8.75},{"n":70000,"k":24,"v":8.75},{"n":75000,"k":24,"v":8.75},{"n":80000,"k":24,"v":8.75},{"n":85000,"k":24,"v":8.75},{"n":90000,"k":24,"v":8.75},{"n":95000,"k":24,"v":8.75},{"n":100000,"k":24,"v":8.75},
{"n":10000,"k":25,"v":8.75},{"n":15000,"k":25,"v":8.75},{"n":20000,"k":25,"v":8.75},{"n":25000,"k":25,"v":8.75},{"n":30000,"k":25,"v":8.75},{"n":35000,"k":25,"v":8.75},{"n":40000,"k":25,"v":8.75},{"n":45000,"k":25,"v":8.75},{"n":50000,"k":25,"v":8.75},{"n":55000,"k":25,"v":8.75},{"n":60000,"k":25,"v":8.75},{"n":65000,"k":25,"v":8.75},{"n":70000,"k":25,"v":8.75},{"n":75000,"k":25,"v":8.75},{"n":80000,"k":25,"v":8.75},{"n":85000,"k":25,"v":8.75},{"n":90000,"k":25,"v":8.75},{"n":95000,"k":25,"v":8.75},{"n":100000,"k":25,"v":8.75},
{"n":10000,"k":26,"v":8.75},{"n":15000,"k":26,"v":8.75},{"n":20000,"k":26,"v":8.75},{"n":25000,"k":26,"v":8.75},{"n":30000,"k":26,"v":8.75},{"n":35000,"k":26,"v":8.75},{"n":40000,"k":26,"v":8.75},{"n":45000,"k":26,"v":8.75},{"n":50000,"k":26,"v":8.75},{"n":55000,"k":26,"v":8.75},{"n":60000,"k":26,"v":8.75},{"n":65000,"k":26,"v":8.75},{"n":70000,"k":26,"v":8.75},{"n":75000,"k":26,"v":8.75},{"n":80000,"k":26,"v":8.75},{"n":85000,"k":26,"v":8.75},{"n":90000,"k":26,"v":8.75},{"n":95000,"k":26,"v":8.75},{"n":100000,"k":26,"v":8.75},
{"n":10000,"k":27,"v":8.75},{"n":15000,"k":27,"v":8.75},{"n":20000,"k":27,"v":8.75},{"n":25000,"k":27,"v":8.75},{"n":30000,"k":27,"v":8.75},{"n":35000,"k":27,"v":8.75},{"n":40000,"k":27,"v":8.75},{"n":45000,"k":27,"v":8.75},{"n":50000,"k":27,"v":8.75},{"n":55000,"k":27,"v":8.75},{"n":60000,"k":27,"v":8.75},{"n":65000,"k":27,"v":8.75},{"n":70000,"k":27,"v":8.75},{"n":75000,"k":27,"v":8.75},{"n":80000,"k":27,"v":8.75},{"n":85000,"k":27,"v":8.75},{"n":90000,"k":27,"v":8.75},{"n":95000,"k":27,"v":8.75},{"n":100000,"k":27,"v":8.75},
{"n":10000,"k":28,"v":8.75},{"n":15000,"k":28,"v":8.75},{"n":20000,"k":28,"v":8.75},{"n":25000,"k":28,"v":8.75},{"n":30000,"k":28,"v":8.75},{"n":35000,"k":28,"v":8.75},{"n":40000,"k":28,"v":8.75},{"n":45000,"k":28,"v":8.75},{"n":50000,"k":28,"v":8.75},{"n":55000,"k":28,"v":8.75},{"n":60000,"k":28,"v":8.75},{"n":65000,"k":28,"v":8.75},{"n":70000,"k":28,"v":8.75},{"n":75000,"k":28,"v":8.75},{"n":80000,"k":28,"v":8.75},{"n":85000,"k":28,"v":8.75},{"n":90000,"k":28,"v":8.75},{"n":95000,"k":28,"v":8.75},{"n":100000,"k":28,"v":8.75},
{"n":10000,"k":29,"v":8.75},{"n":15000,"k":29,"v":8.75},{"n":20000,"k":29,"v":8.75},{"n":25000,"k":29,"v":8.75},{"n":30000,"k":29,"v":8.75},{"n":35000,"k":29,"v":8.75},{"n":40000,"k":29,"v":8.75},{"n":45000,"k":29,"v":8.75},{"n":50000,"k":29,"v":8.75},{"n":55000,"k":29,"v":8.75},{"n":60000,"k":29,"v":8.75},{"n":65000,"k":29,"v":8.75},{"n":70000,"k":29,"v":8.75},{"n":75000,"k":29,"v":8.75},{"n":80000,"k":29,"v":8.75},{"n":85000,"k":29,"v":8.75},{"n":90000,"k":29,"v":8.75},{"n":95000,"k":29,"v":8.75},{"n":100000,"k":29,"v":8.75},
{"n":10000,"k":30,"v":8.75},{"n":15000,"k":30,"v":8.75},{"n":20000,"k":30,"v":8.75},{"n":25000,"k":30,"v":8.75},{"n":30000,"k":30,"v":8.75},{"n":35000,"k":30,"v":8.75},{"n":40000,"k":30,"v":8.75},{"n":45000,"k":30,"v":8.75},{"n":50000,"k":30,"v":8.75},{"n":55000,"k":30,"v":8.75},{"n":60000,"k":30,"v":8.75},{"n":65000,"k":30,"v":8.75},{"n":70000,"k":30,"v":8.75},{"n":75000,"k":30,"v":8.75},{"n":80000,"k":30,"v":8.75},{"n":85000,"k":30,"v":8.75},{"n":90000,"k":30,"v":8.75},{"n":95000,"k":30,"v":8.75},{"n":100000,"k":30,"v":8.75}
]
},
"vconcat": [
{
"title": {"text": "Codifica derivata da illi", "offset": 19},
"data": {"name": "illi"},
"width": 916, "height": 528,
"transform": [
{"calculate": "datum.n - 2560", "as": "n0"},
{"calculate": "datum.n + 2560", "as": "n1"},
{"calculate": "datum.k - 0.52", "as": "k0"},
{"calculate": "datum.k + 0.52", "as": "k1"}
],
"mark": {"type": "rect", "clip": true, "strokeWidth": 0},
"encoding": {
"x": {"field": "n0", "type": "quantitative", "scale": {"domain": [7500, 102500], "nice": false, "zero": false}, "axis": {"title": "lunghezza della sequenza", "values": [10000,20000,30000,40000,50000,60000,70000,80000,90000,100000], "format": "d"}},
"x2": {"field": "n1"},
"y": {"field": "k0", "type": "quantitative", "scale": {"domain": [2, 30], "nice": false, "zero": false}, "axis": {"title": "k", "values": [5,10,15,20,25,30]}},
"y2": {"field": "k1"},
"color": {"field": "v", "type": "quantitative",
"scale": {"domain": [4,4.25,4.5,4.75,5,5.25,5.5,5.75,6,6.25,6.5,6.75,7,7.25,7.5,7.75,8,8.25,8.5,8.75,9,9.25,9.5,9.75,10,10.5,11,11.5,12,12.5,13,13.5,14],
"range": ["#ffffff","#f7f0f3","#f0e4ea","#e9d7e2","#e3cbdc","#dcbfd8","#d6b4d6","#cea9d1","#c4a0cb","#b897c5","#aa8fbf","#9b87b9","#8b7eb3","#7b76ac","#6d71a6","#63709f","#5a7096","#52738f","#4b7789","#487b87","#407c7a","#3a786d","#347461","#2f6f54","#2b6a47","#245d32","#1f521f","#273f12","#2d2f0d","#27220a","#1b1306","#0f0603","#000000"],
"interpolate": "rgb", "zero": false, "nice": false},
"legend": {"type": "gradient", "title": "occupazione di spazio", "values": [4,6,8,10,12,14], "labelOffset": 53, "titleLimit": 500, "encoding": {"labels": {"baseline": {"value": "middle"}}, "title": {"angle": {"value": 270}}}}}
}
},
{
"title": {"text": "Codifica TruST", "offset": 19},
"data": {"name": "trust"},
"width": 916, "height": 528,
"transform": [
{"calculate": "datum.n - 2560", "as": "n0"},
{"calculate": "datum.n + 2560", "as": "n1"},
{"calculate": "datum.k - 0.52", "as": "k0"},
{"calculate": "datum.k + 0.52", "as": "k1"}
],
"mark": {"type": "rect", "clip": true, "strokeWidth": 0},
"encoding": {
"x": {"field": "n0", "type": "quantitative", "scale": {"domain": [7500, 102500], "nice": false, "zero": false}, "axis": {"title": "lunghezza della sequenza", "values": [10000,20000,30000,40000,50000,60000,70000,80000,90000,100000], "format": "d"}},
"x2": {"field": "n1"},
"y": {"field": "k0", "type": "quantitative", "scale": {"domain": [2, 30], "nice": false, "zero": false}, "axis": {"title": "k", "values": [5,10,15,20,25,30]}},
"y2": {"field": "k1"},
"color": {"field": "v", "type": "quantitative",
"scale": {"domain": [4,4.25,4.5,4.75,5,5.25,5.5,5.75,6,6.25,6.5,6.75,7,7.25,7.5,7.75,8,8.25,8.5,8.75,9,9.25,9.5,9.75,10,10.5,11,11.5,12,12.5,13,13.5,14],
"range": ["#ffffff","#f7f0f3","#f0e4ea","#e9d7e2","#e3cbdc","#dcbfd8","#d6b4d6","#cea9d1","#c4a0cb","#b897c5","#aa8fbf","#9b87b9","#8b7eb3","#7b76ac","#6d71a6","#63709f","#5a7096","#52738f","#4b7789","#487b87","#407c7a","#3a786d","#347461","#2f6f54","#2b6a47","#245d32","#1f521f","#273f12","#2d2f0d","#27220a","#1b1306","#0f0603","#000000"],
"interpolate": "rgb", "zero": false, "nice": false},
"legend": {"type": "gradient", "title": "occupazione di spazio", "values": [4,6,8,10,12,14], "labelOffset": 53, "titleLimit": 500, "encoding": {"labels": {"baseline": {"value": "middle"}}, "title": {"angle": {"value": 270}}}}}
}
}
],
"resolve": {"scale": {"color": "independent"}, "legend": {"color": "independent"}},
"config": {
"font": "Liberation Serif",
"view": {"stroke": "black", "strokeWidth": 1.2},
"title": {"font": "Liberation Serif", "fontSize": 28, "fontWeight": "normal", "color": "black", "anchor": "middle"},
"axis": {"labelFont": "Liberation Serif", "labelFontSize": 26, "labelColor": "black", "titleFont": "Liberation Serif", "titleFontSize": 28, "titleFontWeight": "normal", "titleColor": "black", "grid": false, "domain": false, "ticks": true, "tickSize": -7, "tickColor": "black", "tickWidth": 1, "zindex": 1},
"axisX": {"labelPadding": 27, "titlePadding": 22},
"axisY": {"labelPadding": 21, "titlePadding": 28},
"legend": {"orient": "right", "offset": 22, "direction": "vertical", "gradientLength": 528, "gradientThickness": 17, "gradientStrokeColor": "black", "gradientStrokeWidth": 1, "labelFont": "Liberation Serif", "labelFontSize": 26, "labelColor": "black", "titleOrient": "right", "titleAnchor": "middle", "titleFont": "Liberation Serif", "titleFontSize": 28, "titleFontWeight": "normal", "titleColor": "black", "titlePadding": 54}
}
}
